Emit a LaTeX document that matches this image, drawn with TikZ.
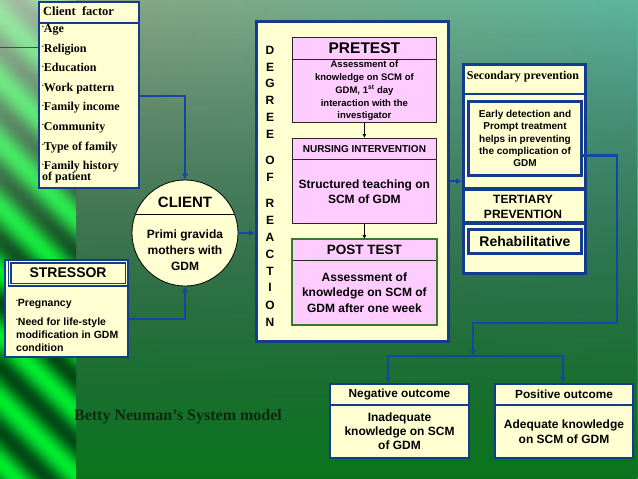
\documentclass[tikz,border=0pt]{standalone}
\usepackage{fontspec}
\setmainfont{Liberation Serif}
\setsansfont{Liberation Sans}
\usetikzlibrary{arrows.meta,fadings,calc}
\definecolor{cream}{RGB}{255,255,210}
\definecolor{navy}{RGB}{20,60,140}
\definecolor{arrowc}{RGB}{20,70,165}
\definecolor{pinkb}{RGB}{255,204,255}
\definecolor{postg}{RGB}{50,125,45}
\definecolor{bgolive}{RGB}{146,164,124}
\definecolor{bgteal}{RGB}{92,182,156}
\definecolor{bgmid}{RGB}{70,170,120}
\definecolor{bgdark}{RGB}{10,118,28}
\definecolor{stbright}{RGB}{0,235,45}
\definecolor{stdark}{RGB}{0,75,20}
\definecolor{stlight}{RGB}{215,225,210}
\definecolor{bettyc}{RGB}{16,40,16}
\tikzfading[name=fadetopclear, top color=transparent!100, middle color=transparent!45, bottom color=transparent!0]
\tikzfading[name=fadebotclear, top color=transparent!0, bottom color=transparent!100]
\newcommand\mysf[2]{\sffamily\bfseries\fontsize{#1}{#2}\selectfont}
\newcommand\myrm[2]{\rmfamily\bfseries\fontsize{#1}{#2}\selectfont}
\newcommand\mybul{\raisebox{0.3em}{\fontsize{5}{5}\selectfont\textbullet}}
\tikzset{
 cbox/.style={draw=navy, line width=2pt, fill=cream, inner sep=0pt, anchor=north west, align=center},
 pbox/.style={draw=black!85, line width=0.8pt, fill=pinkb, inner sep=0pt, anchor=north west, align=center},
 conn/.style={draw=arrowc, line width=2.2pt, -{Latex[length=6pt,width=6.5pt]}},
 connplain/.style={draw=arrowc, line width=2.2pt},
 thinarrow/.style={draw=black, line width=0.8pt, -{Latex[length=4pt,width=4pt]}},
}
\begin{document}
\begin{tikzpicture}[x=1pt,y=-1pt]
\useasboundingbox (0,0) rectangle (638,479);
% background
\fill[left color=bgolive, right color=bgteal] (0,0) rectangle (638,479);
\fill[top color=bgteal, middle color=bgmid, bottom color=bgdark, path fading=fadetopclear] (0,0) rectangle (638,479);
\begin{scope}
\clip (0,0) rectangle (76,479);
\foreach \c in {-80,-78,...,480} {
 \pgfmathsetmacro\pp{max(0,min(100,50+50*sin(\c*5.625)))}
 \draw[line width=2.6pt, color=stbright!\pp!stdark] (0,\c) -- (76,\c+76);
}
\fill[stlight, path fading=fadebotclear, opacity=0.75] (0,0) rectangle (76,280);
\end{scope}
\draw[black!70, line width=0.8pt] (0,47) -- (38,47);

% client factor
\node[cbox, minimum width=100pt, minimum height=21pt] (cfh) at (38,1) {};
\node[anchor=west, inner sep=0pt, font=\myrm{12.5}{14}] (cft) at (43,11) {Client\ \ factor};
\node[cbox, minimum width=100pt, minimum height=165pt] (cfb) at (38,22) {};
\node[anchor=west, align=left, inner sep=0pt, font=\myrm{12}{19.6}] (cfl) at (42,104) {\mybul Age\\ \mybul Religion\\ \mybul Education\\ \mybul Work pattern\\ \mybul Family income\\ \mybul Community\\ \mybul Type of family\\ \mybul Family history\\[-8.6pt] of patient};

% client circle
\node[circle, draw=black, line width=0.8pt, fill=cream, minimum size=106pt, inner sep=0pt] (client) at (185,233) {};
\draw[line width=0.8pt] ($(client.center)+(-49.5,-19)$) -- ($(client.center)+(49.5,-19)$);
\node[font=\mysf{15}{17}] (clt) at (185,202) {CLIENT};
\node[align=center, font=\mysf{12}{16}] (clb) at (185,250) {Primi gravida\\mothers with\\GDM};

% stressor
\node[cbox, minimum width=123pt, minimum height=97pt] (stb) at (4,259) {};
\node[cbox, double=cream, double distance=1.5pt, line width=1.2pt, minimum width=117pt, minimum height=23pt, font=\mysf{14}{16}] (sth) at (9,261) {STRESSOR};
\node[anchor=west, align=left, inner sep=0pt, font=\mysf{10.5}{13}] (stl) at (16,325) {\mybul Pregnancy\\[6pt]\mybul Need for life-style\\modification in GDM\\condition};

% big box
\node[cbox, line width=2.5pt, minimum width=192pt, minimum height=320pt] (big) at (255,20) {};
\foreach \l/\yy [count=\i] in {D/50,E/67,G/83,R/100,E/117,E/134,O/160,F/177,R/203,E/220,A/237,C/254,T/271,I/287,O/305,N/322}
  \node[font=\mysf{12}{14}] (deg\i) at (270,\yy) {\l};

\node[pbox, minimum width=144pt, minimum height=22pt, font=\mysf{15.5}{17}] (preh) at (292,37) {PRETEST};
\node[pbox, minimum width=144pt, minimum height=63pt, font=\mysf{9.5}{12.7}] (preb) at (292,59) {Assessment of\\knowledge on SCM of\\GDM, 1\textsuperscript{st} day\\interaction with the\\investigator};
\node[pbox, minimum width=144pt, minimum height=21pt, font=\mysf{10}{12}] (nurh) at (292,138) {NURSING INTERVENTION};
\node[pbox, minimum width=144pt, minimum height=64pt, font=\mysf{12}{15}] (nurb) at (292,159) {Structured teaching on\\SCM of GDM};
\node[pbox, minimum width=144pt, minimum height=21pt, font=\mysf{13.5}{15}] (posth) at (292,239) {POST TEST};
\node[pbox, minimum width=144pt, minimum height=64pt, font=\mysf{12}{15.5}] (postb) at (292,260) {Assessment of\\knowledge on SCM of\\GDM after one week};
\draw[postg, line width=2pt] (posth.north west) rectangle (postb.south east);
\draw[thinarrow] (preb.south) -- (nurh.north);
\draw[thinarrow] (nurb.south) -- (posth.north);

% secondary group
\node[cbox, line width=3pt, minimum width=122pt, minimum height=209pt] (sg) at (462,63) {};
\node[font=\myrm{12}{14}] (sgt) at (523,77) {Secondary prevention};
\draw[navy, line width=2pt] (462,94) -- (584,94);
\draw[navy, line width=4pt] (462,189) -- (584,189);
\draw[navy, line width=3.5pt] (462,223) -- (584,223);
\node[cbox, line width=3pt, minimum width=113pt, minimum height=74pt, font=\mysf{10}{12.4}] (sp) at (467,100) {Early detection and\\Prompt treatment\\helps in preventing\\the complication of\\GDM};
\node[align=center, font=\mysf{12}{15}] (tert) at (523,207) {TERTIARY\\PREVENTION};
\node[cbox, line width=3pt, minimum width=113pt, minimum height=24pt, font=\mysf{14}{16}] (rehab) at (467,228) {Rehabilitative};

% outcomes
\node[cbox, minimum width=139pt, minimum height=21pt, font=\mysf{11.8}{14}] (negh) at (329,383) {Negative outcome};
\node[cbox, minimum width=139pt, minimum height=53pt, font=\mysf{12}{14}] (negb) at (329,404) {Inadequate\\knowledge on SCM\\of GDM};
\node[cbox, minimum width=138pt, minimum height=21pt, font=\mysf{11.8}{14}] (posh) at (494,383) {Positive outcome};
\node[cbox, minimum width=138pt, minimum height=53pt, font=\mysf{12}{14.5}] (posb) at (494,404) {Adequate knowledge\\on SCM of GDM};

\node[font=\myrm{16}{18}, text=bettyc] (betty) at (178,417) {Betty Neuman's System model};

% connectors
\draw[conn] ($(cfb.east)+(0,-9.5)$) -| (client.north);
\draw[conn] ($(stb.east)+(0,10.5)$) -| (client.south);
\draw[conn] (client.east) -- (client.east -| big.west);
\draw[conn] (big.east) -- (big.east -| sg.west);
\coordinate (bend) at (617,323);
\coordinate (jn) at (473,356);
\coordinate (jl) at (388,356);
\coordinate (jr) at (563,356);
\draw[conn] ($(sp.east)+(0,17)$) -| (bend) -| (jn);
\draw[connplain] (jl) -- (jr);
\draw[conn] (jl) -- (jl |- negh.north);
\draw[conn] (jr) -- (jr |- posh.north);
\end{tikzpicture}
\end{document}
